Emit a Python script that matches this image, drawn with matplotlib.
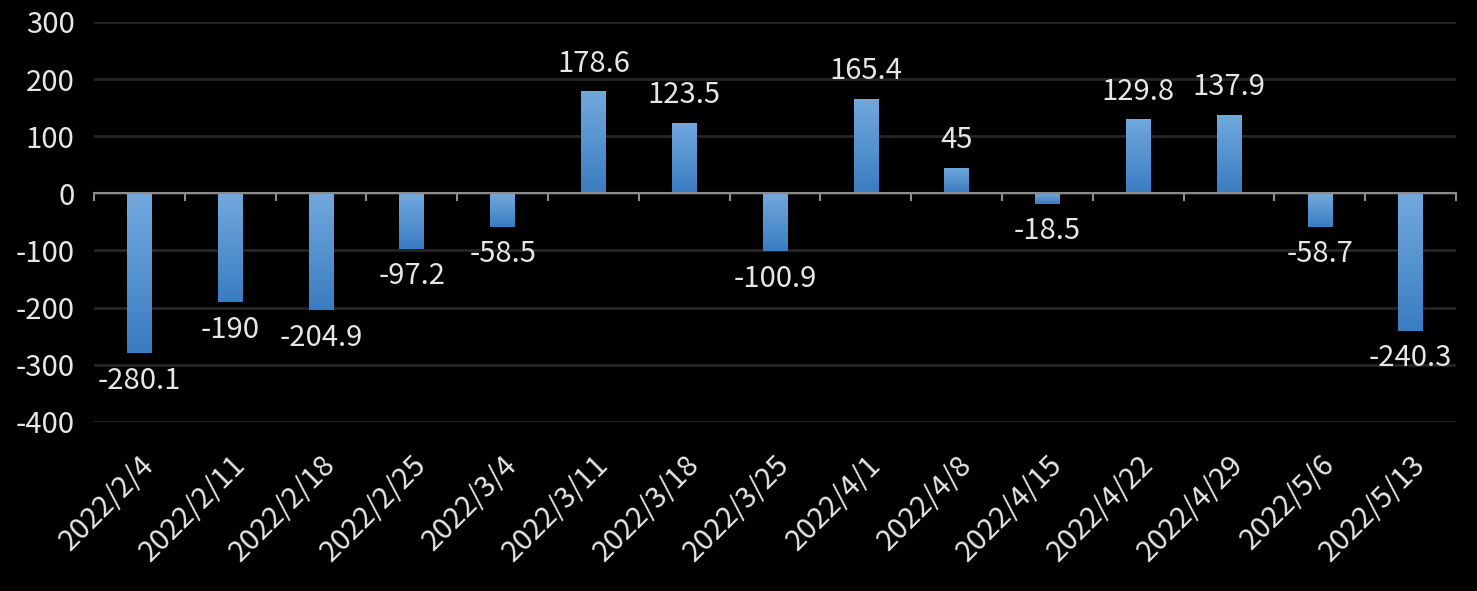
import numpy as np
import matplotlib.pyplot as plt
from matplotlib.colors import LinearSegmentedColormap

plt.rcParams['font.family'] = ['Noto Sans CJK TC', 'DejaVu Sans']

dates = ["2022/2/4", "2022/2/11", "2022/2/18", "2022/2/25", "2022/3/4",
         "2022/3/11", "2022/3/18", "2022/3/25", "2022/4/1", "2022/4/8",
         "2022/4/15", "2022/4/22", "2022/4/29", "2022/5/6", "2022/5/13"]
values = [-280.1, -190, -204.9, -97.2, -58.5,
          178.6, 123.5, -100.9, 165.4, 45,
          -18.5, 129.8, 137.9, -58.7, -240.3]
yticks = [-400, -300, -200, -100, 0, 100, 200, 300]

text_color = "#e6e6e6"
fs = 21

fig = plt.figure(figsize=(14.77, 5.91), dpi=100, facecolor="black")
ax = fig.add_axes([0.0636, 0.286, 0.9222, 0.677])
ax.set_facecolor("black")

x = np.arange(len(values))
bars = ax.bar(x, values, width=0.27, color="#5b9bd5", zorder=3)

# vertical gradient on each bar: lighter at top, darker at bottom
grad = np.linspace(0, 1, 256).reshape(-1, 1)
cmap = LinearSegmentedColormap.from_list("bar", ["#3a7cc2", "#72a9de"])
for b in bars:
    x0, y0 = b.get_x(), b.get_y()
    w, h = b.get_width(), b.get_height()
    lo, hi = min(y0, y0 + h), max(y0, y0 + h)
    im = ax.imshow(grad, cmap=cmap, origin="lower", aspect="auto",
                   extent=[x0, x0 + w, lo, hi], zorder=3)
    im.set_clip_path(b)

for xi, v in zip(x, values):
    label = f"{v:g}"
    if v >= 0:
        ax.text(xi, v + 22, label, ha="center", va="bottom", color=text_color, fontsize=fs)
    else:
        ax.text(xi, v - 22, label, ha="center", va="top", color=text_color, fontsize=fs)

ax.set_xlim(-0.5, len(values) - 0.5)
ax.set_ylim(-400, 300)
ax.set_yticks(yticks)
ax.set_yticklabels([str(t) for t in yticks], color=text_color, fontsize=fs)
ax.yaxis.grid(True, color="#262626", linewidth=2, zorder=0)
ax.tick_params(axis="y", length=0, pad=14)

ax.set_xticks(x)
ax.set_xticklabels(dates, rotation=45, ha="right", rotation_mode="anchor",
                   color=text_color, fontsize=fs)
ax.tick_params(axis="x", length=0, pad=20)

# zero axis line with category separator ticks
ax.axhline(0, color="#8c8c8c", linewidth=1.5, zorder=4)
for b in np.arange(-0.5, len(values), 1.0):
    ax.plot([b, b], [0, -12], color="#8c8c8c", linewidth=1.5, zorder=4, clip_on=False)

for s in ax.spines.values():
    s.set_visible(False)

fig.savefig("out.png", dpi=100, facecolor="black")
